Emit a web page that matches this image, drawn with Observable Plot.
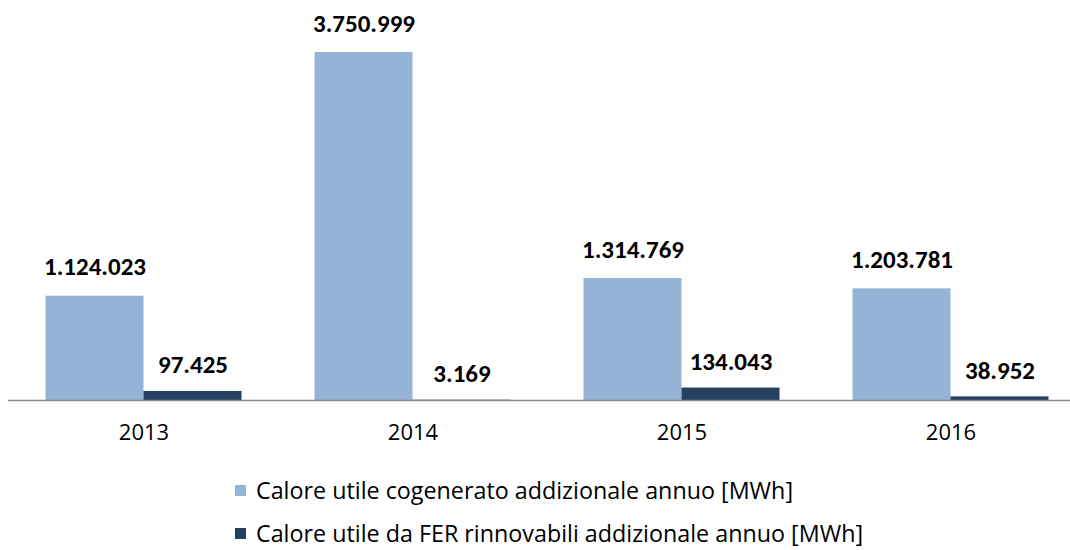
<!DOCTYPE html>
<html>
<head>
<meta charset="utf-8">
<script src="https://cdn.jsdelivr.net/npm/d3@7"></script>
<script src="https://cdn.jsdelivr.net/npm/@observablehq/plot@0.6"></script>
<style>
  html, body { margin: 0; padding: 0; background: #fff; }
  body { width: 1070px; height: 550px; overflow: hidden; font-family: "Open Sans", sans-serif; }
  #wrap { position: relative; width: 1070px; height: 550px; }
  #chart { position: absolute; left: 0; top: 0; }
  .legend { position: absolute; left: 235px; font-size: 23.3px; line-height: 24px; color: #000; display: flex; align-items: center; white-space: nowrap; font-family: "Open Sans", sans-serif; }
  .legend .sw { width: 11px; height: 11px; margin-right: 10px; display: inline-block; }
</style>
</head>
<body>
<div id="wrap">
  <div id="chart"></div>
  <div class="legend" id="leg0" style="top:478px"></div>
  <div class="legend" id="leg1" style="top:521px"></div>
</div>
<script>
const years = ["2013", "2014", "2015", "2016"];
const seriesNames = [
  "Calore utile cogenerato addizionale annuo [MWh]",
  "Calore utile da FER rinnovabili addizionale annuo [MWh]"
];
const cogenerato = [1124023, 3750999, 1314769, 1203781];
const fer = [97425, 3169, 134043, 38952];
const colors = ["#95b3d7", "#254061"];

const fmt = d3.formatLocale({decimal: ",", thousands: ".", grouping: [3], currency: ["", ""]}).format(",d");

const dataA = years.map((y, i) => ({year: y, value: cogenerato[i]}));
const dataB = years.map((y, i) => ({year: y, value: fer[i]}));

const band = (1084.5 - 8.5) / 4;
const barW = 98;
const outer = band / 2 - barW;

const chart = Plot.plot({
  width: 1070,
  height: 460,
  marginLeft: 8,
  marginRight: 0,
  marginTop: 0,
  marginBottom: 60,
  style: {fontFamily: "'Open Sans', sans-serif", background: "#fff", overflow: "visible"},
  x: {domain: years, range: [8.5, 1084.5], padding: 0},
  y: {axis: null, domain: [0, 3750999], range: [400, 52]},
  marks: [
    Plot.barY(dataA, {x: "year", y: "value", fill: colors[0], insetLeft: outer, insetRight: band / 2}),
    Plot.barY(dataB, {x: "year", y: "value", fill: colors[1], insetLeft: band / 2, insetRight: outer}),
    Plot.ruleY([0], {stroke: "#898989", strokeWidth: 1.5}),
    Plot.text(dataA, {x: "year", y: "value", text: d => fmt(d.value), dx: -barW / 2, dy: -29, lineAnchor: "middle", fontWeight: "bold", fontSize: 25, fontFamily: "Carlito, Calibri, Lato, sans-serif", fill: "#000"}),
    Plot.text(dataB, {x: "year", y: "value", text: d => fmt(d.value), dx: barW / 2, dy: -26, lineAnchor: "middle", fontWeight: "bold", fontSize: 25, fontFamily: "Carlito, Calibri, Lato, sans-serif", fill: "#000"}),
    Plot.axisX({tickSize: 0, tickPadding: 24, fontSize: 22, label: null, color: "#000"})
  ]
});
document.getElementById("chart").appendChild(chart);

seriesNames.forEach((name, i) => {
  const el = document.getElementById("leg" + i);
  const sw = document.createElement("span");
  sw.className = "sw";
  sw.style.background = colors[i];
  el.appendChild(sw);
  el.appendChild(document.createTextNode(name));
});
</script>
</body>
</html>
